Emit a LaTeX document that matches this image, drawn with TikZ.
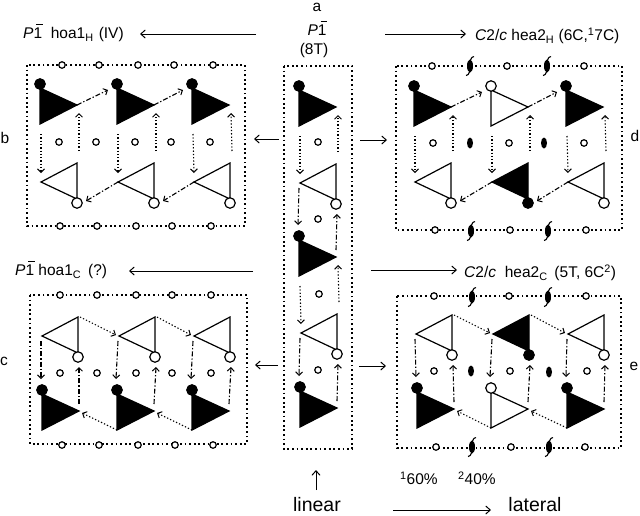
\documentclass[tikz,border=0pt]{standalone}
\usepackage{fontspec}
\setmainfont{Liberation Sans}
\usetikzlibrary{arrows.meta,shapes.geometric}
\newcommand{\barone}{1\llap{\rule[0.86em]{0.42em}{0.08em}\kern-0.05em}}
\newcommand{\TriA}[4]{%
 \begin{scope}[shift={(#2,#3)}]
  \coordinate (#1-t) at (0,4); \coordinate (#1-a) at (37,21); \coordinate (#1-b) at (0,40);
  \coordinate (#1-s) at (1,50); \coordinate (#1-u) at (39,29); \coordinate (#1-i) at (-9,6);
  \coordinate (#1-v) at (37,14); \coordinate (#1-w) at (40,23); \coordinate (#1-x) at (-1,-11);
  \draw[tri,fill=#4] (#1-t) -- (#1-a) -- (#1-b) -- cycle;
  \node[big,fill=#4] (#1-c) at (0,0) {};
 \end{scope}}
\newcommand{\TriB}[4]{%
 \begin{scope}[shift={(#2,#3)}]
  \coordinate (#1-o) at (0,-4); \coordinate (#1-a) at (-36,-21); \coordinate (#1-t) at (0,-40);
  \coordinate (#1-d) at (-36,-30); \coordinate (#1-s) at (2,-52); \coordinate (#1-i) at (9,-2);
  \coordinate (#1-r) at (2,-40); \coordinate (#1-w) at (-39,-22); \coordinate (#1-e) at (-37,-16);
  \coordinate (#1-q) at (1,10);
  \draw[tri,fill=#4] (#1-o) -- (#1-a) -- (#1-t) -- cycle;
  \node[big,fill=#4] (#1-c) at (0,0) {};
 \end{scope}}
\tikzset{
 x=1pt,y=-1pt,
 tri/.style={line width=1.2pt,line join=miter},
 big/.style={circle,draw=black,line width=1.2pt,minimum size=10.5pt,inner sep=0pt},
 sm/.style={circle,draw=black,fill=white,line width=1.2pt,minimum size=6.5pt,inner sep=0pt},
 oval/.style={ellipse,fill=black,minimum width=6pt,minimum height=11pt,inner sep=0pt},
 boxl/.style={line width=1.2pt,dash pattern=on 1.8pt off 2.8pt},
 dot/.style={line width=1.1pt,dash pattern=on 1.3pt off 2pt,-{Straight Barb[length=3.5pt,width=7pt,line width=1pt]}},
 dd/.style={line width=1.1pt,dash pattern=on 5pt off 2pt on 1.3pt off 2pt,-{Straight Barb[length=3.5pt,width=7pt,line width=1pt]}},
 arr/.style={line width=1pt,-{Straight Barb[length=4.5pt,width=8pt,line width=1pt]}},
 lab/.style={inner sep=0pt,font=\fontsize{15.5}{18}\selectfont,anchor=west},
 lbl/.style={inner sep=0pt,font=\fontsize{15.5}{18}\selectfont},
 lbig/.style={inner sep=0pt,font=\fontsize{19.5}{22}\selectfont},
 screw/.pic={\fill[white] (-4,-9) rectangle (4,9);
   \fill (0,0) ellipse [x radius=3,y radius=6.5];
   \draw[line width=1.1pt] (0.5,-6) .. controls (1,-8) and (2.5,-9.5) .. (4,-9.5);
   \draw[line width=1.1pt] (-0.5,6) .. controls (-1,8) and (-2.5,9.5) .. (-4,9.5);}
}
\begin{document}
\begin{tikzpicture}
\useasboundingbox (0,0) rectangle (640,515);
% boxes
\draw[boxl] (27,65) rectangle (245,226);
\draw[boxl] (284,66) rectangle (352,449);
\draw[boxl] (396,66) rectangle (622,230);
\draw[boxl] (30,295) rectangle (247,444);
\draw[boxl] (397,296) rectangle (621,448);
% small circles
\foreach \i/\x in {1/62,2/99,3/138,4/174,5/213}{\node[sm] (bt\i) at (\x,65) {};}
\foreach \i/\x in {1/60,2/97,3/136,4/172,5/211}{\node[sm] (bb\i) at (\x,226) {}; \node[sm] (bm\i) at (\x-1,142) {};}
\foreach \i/\x in {1/60,2/97,3/136,4/172,5/211}{\node[sm] (ct\i) at (\x,295) {}; \node[sm] (cm\i) at (\x,373) {};}
\foreach \i/\x in {1/62,2/99,3/138,4/175,5/213}{\node[sm] (cb\i) at (\x,445) {};}
\foreach \i/\x/\y in {1/318/142,2/318/219,3/319/294,4/318/370}{\node[sm] (am\i) at (\x,\y) {};}
\foreach \i/\x in {1/432,2/507,3/584}{\node[sm] (dt\i) at (\x,66) {};}
\foreach \i/\x in {1/435,2/510,3/586}{\node[sm] (db\i) at (\x,230) {};}
\foreach \i/\x in {1/433,2/509,3/584}{\node[sm] (dm\i) at (\x,143) {};}
\foreach \i/\x in {1/434,2/509,3/586}{\node[sm] (et\i) at (\x,296) {};}
\foreach \i/\x in {1/436,2/511,3/585}{\node[sm] (eb\i) at (\x,447) {};}
\foreach \i/\x in {1/434,2/510,3/587}{\node[sm] (em\i) at (\x,371) {};}
% screw axes and two-fold axes
\foreach \x/\y in {470/66,547/66,471/231,548/231,472/297,548/297,472/447,549/447}{\pic at (\x,\y) {screw};}
\foreach \x/\y in {470/143,544/143,471/371,549/372}{\node[oval] at (\x,\y) {};}
% triangles: panel b
\TriA{b1}{40}{84}{black}\TriA{b3}{117}{84}{black}\TriA{b5}{192}{84}{black}
\TriB{b2}{77}{203}{white}\TriB{b4}{154}{203}{white}\TriB{b6}{230}{203}{white}
% panel a
\TriA{a1}{299}{86}{black}\TriB{a2}{336}{204}{white}\TriA{a3}{299}{236}{black}\TriB{a4}{337}{354}{white}\TriA{a5}{300}{387}{black}
% panel d
\TriA{d1}{414}{86}{black}\TriA{d2}{491}{86}{white}\TriA{d3}{566}{86}{black}
\TriB{d4}{451}{203}{white}\TriB{d5}{528}{203}{black}\TriB{d6}{604}{203}{white}
% panel c
\TriB{c1}{78}{357}{white}\TriB{c2}{155}{357}{white}\TriB{c3}{230}{357}{white}
\TriA{c4}{42}{390}{black}\TriA{c5}{117}{390}{black}\TriA{c6}{192}{390}{black}
% panel e
\TriB{e1}{452}{355}{white}\TriB{e2}{529}{355}{black}\TriB{e3}{604}{355}{white}
\TriA{e4}{417}{388}{black}\TriA{e5}{491}{388}{white}\TriA{e6}{567}{388}{black}
% connectors: panels b and d (dotted vertical, dash-dot lateral)
\foreach \p/\q in {b1/b2,b3/b4,b5/b6,a1/a2,a3/a4,d1/d4,d2/d5,d3/d6}{
 \draw[dot] (\p-s) -- (\q-d);
 \draw[dot] (\q-s) -- (\p-u);}
\foreach \p/\q in {b1/b3,b3/b5,d1/d2,d2/d3}{\draw[dd] (\p-a) -- (\q-i);}
\foreach \p/\q in {b4/b2,b6/b4,d5/d4,d6/d5}{\draw[dd] (\p-a) -- (\q-i);}
% connectors: panels c and e, and panel a (dash-dot vertical, dotted lateral)
\foreach \p/\q in {a2/a3,a4/a5,c1/c4,c2/c5,c3/c6,e1/e4,e2/e5,e3/e6}{
 \draw[dd] (\p-e) -- (\q-x);
 \draw[dd] (\q-v) -- (\p-q);}
\foreach \p/\q in {c1/c2,c2/c3,e1/e2,e2/e3}{\draw[dot] (\p-r) -- (\q-w);}
\foreach \p/\q in {c5/c4,c6/c5,e5/e4,e6/e5}{\draw[dot] (\p-b) -- (\q-w);}
% free arrows
\coordinate (h1s) at (256,34); \coordinate (h1e) at (140,34);
\coordinate (h2s) at (385,34); \coordinate (h2e) at (466,34);
\coordinate (h3s) at (253,271); \coordinate (h3e) at (129,271);
\coordinate (h4s) at (371,270); \coordinate (h4e) at (457,270);
\coordinate (s1s) at (279,139); \coordinate (s1e) at (254,139);
\coordinate (s2s) at (360,140); \coordinate (s2e) at (387,140);
\coordinate (s3s) at (278,365); \coordinate (s3e) at (255,365);
\coordinate (s4s) at (359,366); \coordinate (s4e) at (386,366);
\coordinate (ls) at (316,490); \coordinate (le) at (316,470);
\coordinate (rs) at (393,510); \coordinate (re) at (491,510);
\foreach \n in {h1,h2,h3,h4,s1,s2,s3,s4}{\draw[arr] (\n s) -- (\n e);}
\draw[arr] (ls) -- (le);
\draw[arr] (rs) -- (re);
% labels
\node[lbl] (la) at (317,7) {a};
\node[lbl] (lp) at (317,28) {\textit{P}\barone};
\node[lbl] (l8) at (314,50) {(8T)};
\node[lab] (t1) at (23,33) {\textit{P}\barone\ \ hoa1\textsubscript{H}\,\,(IV)};
\node[lab] (t2) at (15,270) {\textit{P}\barone\ hoa1\textsubscript{C} \,(?)};
\node[lab] (t3) at (475,36) {\textit{C}2/\textit{c} hea2\textsubscript{H} (6C,\textsuperscript{1}7C)};
\node[lab] (t4) at (464,273) {\textit{C}2/\textit{c} \ hea2\textsubscript{C} \,(5T, 6C\textsuperscript{2})};
\node[lbl] (lb) at (5,138) {b};
\node[lbl] (lc) at (4,361) {c};
\node[lbl] (ld) at (635,136) {d};
\node[lbl] (le2) at (634,366) {e};
\node[lab] (p1) at (400,478) {\textsuperscript{1}60\%};
\node[lab] (p2) at (458,478) {\textsuperscript{2}40\%};
\node[lbig] (li) at (317,505) {linear};
\node[lbig] (la2) at (535,505) {lateral};
\end{tikzpicture}
\end{document}
